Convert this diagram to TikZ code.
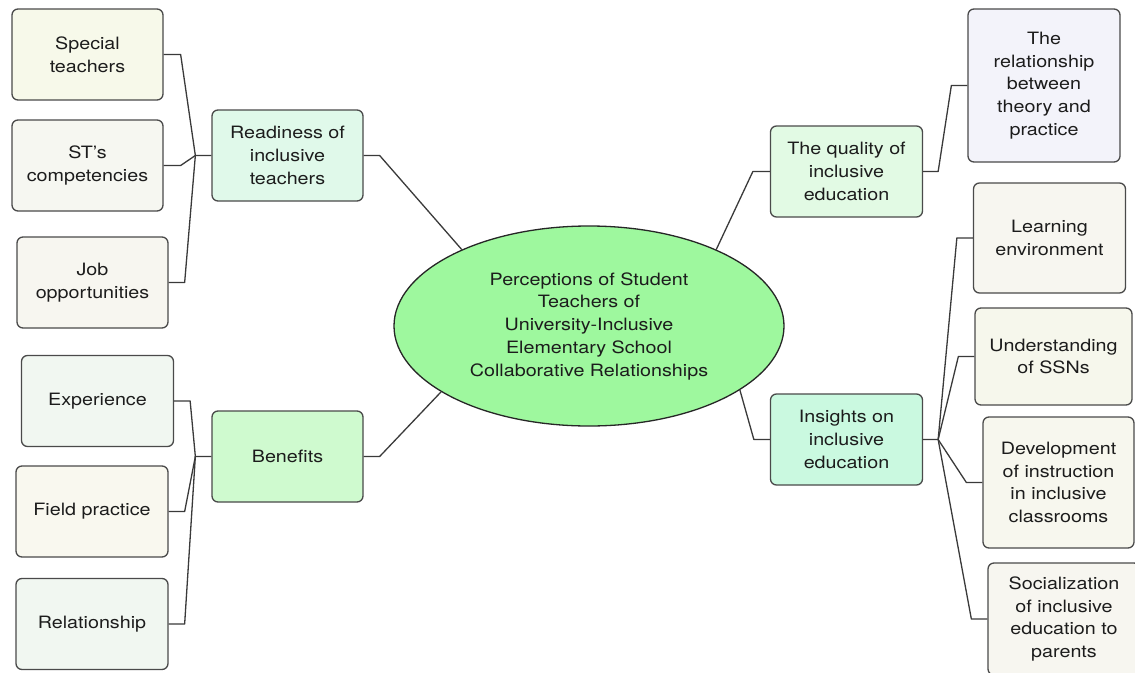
\documentclass[tikz,border=0pt]{standalone}
\usepackage{fontspec}
\setmainfont{TeX Gyre Heros}[FakeStretch=1.16]
\usetikzlibrary{shapes.geometric}
\definecolor{bordc}{HTML}{4A4A4A}
\definecolor{linec}{HTML}{3A3A3A}
\definecolor{txtc}{HTML}{1C1C1C}
\definecolor{ellc}{HTML}{9EF89E}
\definecolor{mintA}{HTML}{E0F9EA}
\definecolor{mintB}{HTML}{E2FAE4}
\definecolor{greenB}{HTML}{CFFACF}
\definecolor{mintC}{HTML}{CAF9E0}
\definecolor{creamA}{HTML}{F7F9EA}
\definecolor{greyA}{HTML}{F6F7F1}
\definecolor{greyB}{HTML}{F7F6F0}
\definecolor{greenpale}{HTML}{F1F7F1}
\definecolor{creamB}{HTML}{F9F8EF}
\definecolor{lav}{HTML}{F3F3FA}
\definecolor{creamC}{HTML}{F6F7EC}
\definecolor{creamD}{HTML}{F7F7EE}
\begin{document}
\begin{tikzpicture}[x=1pt,y=-1pt,
  box/.style={draw=bordc, line width=1.3pt, rounded corners=6pt, align=center,
    inner sep=0pt, text=txtc, font=\fontsize{17}{22.75}\selectfont},
  conn/.style={draw=linec, line width=1.3pt, line join=round}]
\useasboundingbox[fill=white] (0,0) rectangle (1135,672);

% central ellipse
\node[ellipse, draw=black!85, line width=1.3pt, fill=ellc, minimum width=390pt,
  minimum height=200pt, inner sep=0pt, align=center, text=txtc,
  font=\fontsize{17}{22.75}\selectfont] (ell) at (589,326)
  {Perceptions of Student\\Teachers of\\University-Inclusive\\Elementary School\\Collaborative Relationships};

% left: readiness group
\node[box, fill=creamA, minimum width=151pt, minimum height=91pt] (sp) at (87.5,54.5) {Special\\teachers};
\node[box, fill=greyA, minimum width=151pt, minimum height=91pt] (stc) at (87.5,165.5) {ST’s\\competencies};
\node[box, fill=greyB, minimum width=151pt, minimum height=91pt] (job) at (92.5,282.5) {Job\\opportunities};
\node[box, fill=mintA, minimum width=151pt, minimum height=91pt] (rd) at (287.5,155.5) {Readiness of\\inclusive\\teachers};

% left: benefits group
\node[box, fill=greenpale, minimum width=152pt, minimum height=91pt] (exp) at (97.5,401) {Experience};
\node[box, fill=creamB, minimum width=152pt, minimum height=91pt] (fp) at (92,511.5) {Field practice};
\node[box, fill=greenpale, minimum width=152pt, minimum height=91pt] (rel) at (92,624) {Relationship};
\node[box, fill=greenB, minimum width=151pt, minimum height=91pt] (ben) at (287.5,456.5) {Benefits};

% right: quality group
\node[box, fill=mintB, minimum width=152pt, minimum height=91pt] (qu) at (846.5,171.5) {The quality of\\inclusive\\education};
\node[box, fill=lav, minimum width=152pt, minimum height=153pt] (th) at (1044,85.5) {The\\relationship\\between\\theory and\\practice};

% right: insights group
\node[box, fill=mintC, minimum width=152pt, minimum height=91pt] (ins) at (846.5,439.5) {Insights on\\inclusive\\education};
\node[box, fill=greyB, minimum width=152pt, minimum height=110pt] (le) at (1049.5,238) {Learning\\environment};
\node[box, fill=creamC, minimum width=157pt, minimum height=97pt] (un) at (1053.5,356.5) {Understanding\\of SSNs};
\node[box, fill=creamD, minimum width=151pt, minimum height=131pt] (dev) at (1058.5,482.5) {Development\\of instruction\\in inclusive\\classrooms};
\node[box, fill=greyB, minimum width=152pt, minimum height=112pt] (soc) at (1064,619) {Socialization\\of inclusive\\education to\\parents};

% connectors: readiness group
\coordinate (jr) at ([xshift=-16pt]rd.west);
\draw[conn] (sp.east) -- ++(17,0) -- (jr) -- (rd.west);
\draw[conn] (stc.east) -- ++(17,0) -- (jr);
\draw[conn] (job.east) -- ++(16,0) -- (jr);
% benefits group
\coordinate (jb) at ([xshift=-16pt]ben.west);
\draw[conn] (exp.east) -- ++(16,0) -- (jb) -- (ben.west);
\draw[conn] (fp.east) -- ++(16,0) -- (jb);
\draw[conn] (rel.east) -- ++(16,0) -- (jb);
% to ellipse
\draw[conn] (rd.east) -- ++(16,0) -- (ell.149.5);
\draw[conn] (ben.east) -- ++(16,0) -- (ell.-156.5);
\draw[conn] (ell.31) -- ([xshift=-17pt]qu.west) -- (qu.west);
\draw[conn] (ell.-23.4) -- ([xshift=-16pt]ins.west) -- (ins.west);
% quality -> theory
\draw[conn] (qu.east) -- ++(15,0) -- ([xshift=-16pt]th.west) -- (th.west);
% insights group
\coordinate (ji) at ([xshift=15pt]ins.east);
\draw[conn] (ins.east) -- (ji) -- ([xshift=-16pt]le.west) -- (le.west);
\draw[conn] (ji) -- ([xshift=-16pt]un.west) -- (un.west);
\draw[conn] (ji) -- ([xshift=-16pt]dev.west) -- (dev.west);
\draw[conn] (ji) -- ([xshift=-16pt]soc.west) -- (soc.west);
\end{tikzpicture}
\end{document}
